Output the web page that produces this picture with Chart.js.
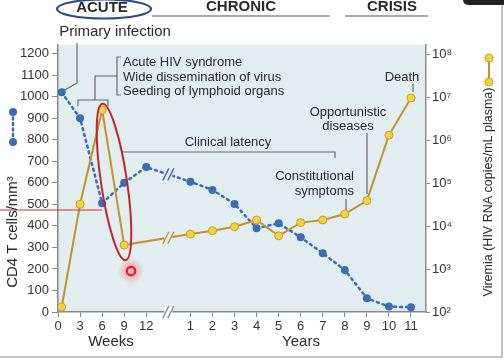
<!DOCTYPE html>
<html>
<head>
<meta charset="utf-8">
<script src="https://cdn.jsdelivr.net/npm/chart.js@4/dist/chart.umd.min.js"></script>
<style>
  body { margin: 0; background: #fff; }
  #wrap { width: 504px; height: 360px; position: relative; }
</style>
</head>
<body>
<div id="wrap"><canvas id="graficoHiv"></canvas></div>
<script>
// eixo x: semanas (fase aguda) e anos
const weekTicks = [0, 3, 6, 9, 12];
const yearTicks = [1, 2, 3, 4, 5, 6, 7, 8, 9, 10, 11];

// CD4 T cells/mm3
const cd4Weeks = [0.5, 3, 6, 9, 12];
const cd4WeekValues = [1020, 900, 505, 600, 673];
const cd4YearValues = [605, 567, 502, 389, 412, 347, 273, 195, 64, 25, 22];

// viremia (HIV RNA copies/mL plasma)
const viremiaWeeks = [0.5, 3, 6, 9];
const viremiaWeekValues = [130, 32000, 5000000, 3600];
const viremiaYearValues = [6500, 7800, 9600, 13800, 5900, 12000, 13800, 19000, 39000, 1300000, 9500000];

const cd4Ticks = [0, 100, 200, 300, 400, 500, 600, 700, 800, 900, 1000, 1100, 1200];
const viremiaTicks = [1e2, 1e3, 1e4, 1e5, 1e6, 1e7, 1e8];

const FONTE = '"Liberation Sans", Arial, Helvetica, sans-serif';
const AZUL = '#3c6cb4';
const OURO = '#c4922c';
const FUNDO = '#e2edef';

// semanas e anos no mesmo eixo linear, com a quebra em 5
const weekPos = w => w / 3;
const yearPos = y => y + 5;
const sup = { 2: '²', 3: '³', 4: '⁴', 5: '⁵', 6: '⁶', 7: '⁷', 8: '⁸' };

const cd4Data = cd4Weeks.map((w, i) => ({ x: weekPos(w), y: cd4WeekValues[i] }))
  .concat(yearTicks.map((a, i) => ({ x: yearPos(a), y: cd4YearValues[i] })));
const viremiaData = viremiaWeeks.map((w, i) => ({ x: weekPos(w), y: viremiaWeekValues[i] }))
  .concat(yearTicks.map((a, i) => ({ x: yearPos(a), y: viremiaYearValues[i] })));

function linha(ctx, pts, cor, lw) {
  ctx.beginPath();
  ctx.strokeStyle = cor;
  ctx.lineWidth = lw || 1.2;
  ctx.moveTo(pts[0][0], pts[0][1]);
  for (let i = 1; i < pts.length; i++) ctx.lineTo(pts[i][0], pts[i][1]);
  ctx.stroke();
}

function texto(ctx, s, x, y, size, align, bold) {
  ctx.font = (bold ? 'bold ' : '') + size + 'px ' + FONTE;
  ctx.textAlign = align || 'center';
  ctx.textBaseline = 'middle';
  ctx.fillStyle = '#2a2a2a';
  ctx.fillText(s, x, y);
}

function quebra(ctx, x, y, cor, fundo) {
  ctx.save();
  ctx.fillStyle = fundo;
  ctx.fillRect(x - 4, y - 5, 8, 10);
  ctx.strokeStyle = cor;
  ctx.lineWidth = 1.4;
  [-2.5, 2.5].forEach(d => {
    ctx.beginPath();
    ctx.moveTo(x + d - 3, y + 6);
    ctx.lineTo(x + d + 3, y - 6);
    ctx.stroke();
  });
  ctx.restore();
}

const desenhos = {
  id: 'desenhos',
  beforeDraw(chart) {
    const { ctx, chartArea: a } = chart;
    ctx.save();
    ctx.fillStyle = FUNDO;
    ctx.fillRect(a.left, a.top, a.right - a.left, a.bottom - a.top);
    ctx.restore();
  },
  afterDraw(chart) {
    const ctx = chart.ctx;
    const xs = chart.scales.x;
    const a = chart.chartArea;
    ctx.save();

    // quebras "//"
    const xb = xs.getPixelForValue(5);
    [[0, OURO, 3], [1, AZUL, 4]].forEach(([ds, cor, k]) => {
      const p = chart.getDatasetMeta(ds).data;
      const p1 = p[k], p2 = p[k + 1];
      const t = (xb - p1.x) / (p2.x - p1.x);
      quebra(ctx, xb, p1.y + t * (p2.y - p1.y), cor, FUNDO);
    });
    quebra(ctx, xb, a.bottom, '#888', '#fff');

    // cabecalho
    texto(ctx, 'ACUTE', 102, 8, 15, 'center', true);
    ctx.beginPath();
    ctx.strokeStyle = '#2b4c8c';
    ctx.lineWidth = 2.2;
    ctx.ellipse(104, 9, 47, 9.5, 0, 0, Math.PI * 2);
    ctx.stroke();
    texto(ctx, 'CHRONIC', 241, 7, 15, 'center', true);
    linha(ctx, [[152, 16], [330, 16]], '#8a8a8a', 1.5);
    texto(ctx, 'CRISIS', 392, 7, 15, 'center', true);
    linha(ctx, [[345, 16], [428, 16]], '#8a8a8a', 1.5);

    // anotacoes
    texto(ctx, 'Primary infection', 115, 32, 15);
    linha(ctx, [[77, 43], [77, 83], [63, 91]], '#666');

    linha(ctx, [[121, 57], [117, 57], [117, 95], [121, 95]], '#666');
    linha(ctx, [[117, 76], [95, 76], [95, 100]], '#666');
    linha(ctx, [[78, 106], [78, 100], [108, 100], [108, 106]], '#666');
    texto(ctx, 'Acute HIV syndrome', 123, 62, 13, 'left');
    texto(ctx, 'Wide dissemination of virus', 123, 77, 13, 'left');
    texto(ctx, 'Seeding of lymphoid organs', 123, 91, 13, 'left');

    texto(ctx, 'Clinical latency', 228, 142, 13);
    linha(ctx, [[122, 152], [335, 152], [335, 158]], '#666');

    texto(ctx, 'Constitutional', 354, 176, 13, 'right');
    texto(ctx, 'symptoms', 354, 191, 13, 'right');
    linha(ctx, [[346, 199], [346, 210]], '#666');

    texto(ctx, 'Opportunistic', 348, 112, 13);
    texto(ctx, 'diseases', 348, 126, 13);
    linha(ctx, [[367, 133], [367, 194]], '#666');

    texto(ctx, 'Death', 402, 77, 13);
    linha(ctx, [[413, 84], [413, 92]], '#666');

    // titulos dos eixos
    texto(ctx, 'Weeks', 111, 342, 15);
    texto(ctx, 'Years', 301, 342, 15);
    ctx.save();
    ctx.translate(13, 232);
    ctx.rotate(-Math.PI / 2);
    texto(ctx, 'CD4 T cells/mm³', 0, 0, 15);
    ctx.restore();
    ctx.save();
    ctx.translate(489, 192);
    ctx.rotate(-Math.PI / 2);
    texto(ctx, 'Viremia (HIV RNA copies/mL plasma)', 0, 0, 12.5);
    ctx.restore();

    // icones das series
    ctx.setLineDash([2, 3.5]);
    ctx.lineCap = 'round';
    linha(ctx, [[13, 112], [13, 142]], AZUL, 2.5);
    ctx.setLineDash([]);
    ctx.lineCap = 'butt';
    [112, 142].forEach(y => {
      ctx.beginPath(); ctx.fillStyle = AZUL; ctx.arc(13, y, 4, 0, Math.PI * 2); ctx.fill();
    });
    linha(ctx, [[489, 58], [489, 82]], OURO, 2);
    [58, 82].forEach(y => {
      ctx.beginPath(); ctx.fillStyle = '#f3d33c'; ctx.strokeStyle = '#c8a032'; ctx.lineWidth = 1;
      ctx.arc(489, y, 4, 0, Math.PI * 2); ctx.fill(); ctx.stroke();
    });

    // marcacoes em vermelho
    linha(ctx, [[0, 210], [102, 210]], '#d42a2a', 1.2);
    ctx.beginPath();
    ctx.strokeStyle = '#bf262c';
    ctx.lineWidth = 2;
    ctx.ellipse(114, 182, 13, 79, -0.147, 0, Math.PI * 2);
    ctx.stroke();
    const g = ctx.createRadialGradient(131, 271, 2, 131, 271, 13);
    g.addColorStop(0, 'rgba(255,60,60,0.45)');
    g.addColorStop(1, 'rgba(255,60,60,0)');
    ctx.fillStyle = g;
    ctx.fillRect(116, 256, 30, 30);
    ctx.beginPath();
    ctx.fillStyle = '#ffb0b0';
    ctx.strokeStyle = '#e4202a';
    ctx.lineWidth = 2.2;
    ctx.arc(131, 271, 4.2, 0, Math.PI * 2);
    ctx.fill(); ctx.stroke();

    // moldura da captura
    linha(ctx, [[502, 0], [502, 357], [0, 357]], '#c4c4c4', 2);
    ctx.fillStyle = '#222';
    ctx.beginPath();
    ctx.roundRect(463, -10, 60, 15, 5);
    ctx.fill();
    ctx.restore();
  }
};

new Chart(document.getElementById('graficoHiv'), {
  type: 'line',
  data: {
    datasets: [{
      label: 'Viremia',
      data: viremiaData,
      yAxisID: 'y1',
      borderColor: OURO,
      borderWidth: 2,
      pointRadius: 4,
      pointBackgroundColor: '#f3d33c',
      pointBorderColor: '#c8a032',
      pointBorderWidth: 1,
      tension: 0
    }, {
      label: 'CD4',
      data: cd4Data,
      yAxisID: 'y',
      borderColor: AZUL,
      borderWidth: 2.5,
      borderDash: [2, 4],
      borderCapStyle: 'round',
      pointRadius: 4,
      pointBackgroundColor: AZUL,
      pointBorderWidth: 0,
      tension: 0
    }]
  },
  options: {
    responsive: true,
    maintainAspectRatio: false,
    animation: false,
    devicePixelRatio: 1,
    layout: { padding: { top: 45, left: 0, right: 0, bottom: 0 } },
    plugins: { legend: { display: false }, tooltip: { enabled: false } },
    scales: {
      x: {
        type: 'linear',
        min: 0,
        max: 16.68,
        afterBuildTicks: s => { s.ticks = weekTicks.map(weekPos).concat(yearTicks.map(yearPos)).map(v => ({ value: v })); },
        afterFit: s => { s.height = 48; },
        ticks: {
          autoSkip: false, maxRotation: 0, padding: 2, color: '#333',
          font: { size: 13, family: FONTE },
          callback: v => v <= 4 ? Math.round(v * 3) : Math.round(v - 5)
        },
        grid: { drawOnChartArea: false, tickLength: 5, color: '#888' },
        border: { color: '#888', width: 1.5 }
      },
      y: {
        position: 'left',
        min: 0,
        max: 1240,
        afterBuildTicks: s => { s.ticks = cd4Ticks.map(v => ({ value: v })); },
        afterFit: s => { s.width = 58; },
        ticks: { padding: 3, color: '#333', font: { size: 13, family: FONTE }, callback: v => String(v) },
        grid: { drawOnChartArea: false, tickLength: 6, color: '#888' },
        border: { color: '#888', width: 1.5 }
      },
      y1: {
        type: 'logarithmic',
        position: 'right',
        min: 100,
        max: 1.62e8,
        afterBuildTicks: s => { s.ticks = viremiaTicks.map(v => ({ value: v })); },
        afterFit: s => { s.width = 78; },
        ticks: {
          padding: 2, color: '#333', font: { size: 13, family: FONTE },
          callback: v => '10' + sup[Math.round(Math.log10(v))]
        },
        grid: { drawOnChartArea: false, tickLength: 4, color: '#888' },
        border: { color: '#888', width: 1.5 }
      }
    }
  },
  plugins: [desenhos]
});
</script>
</body>
</html>
